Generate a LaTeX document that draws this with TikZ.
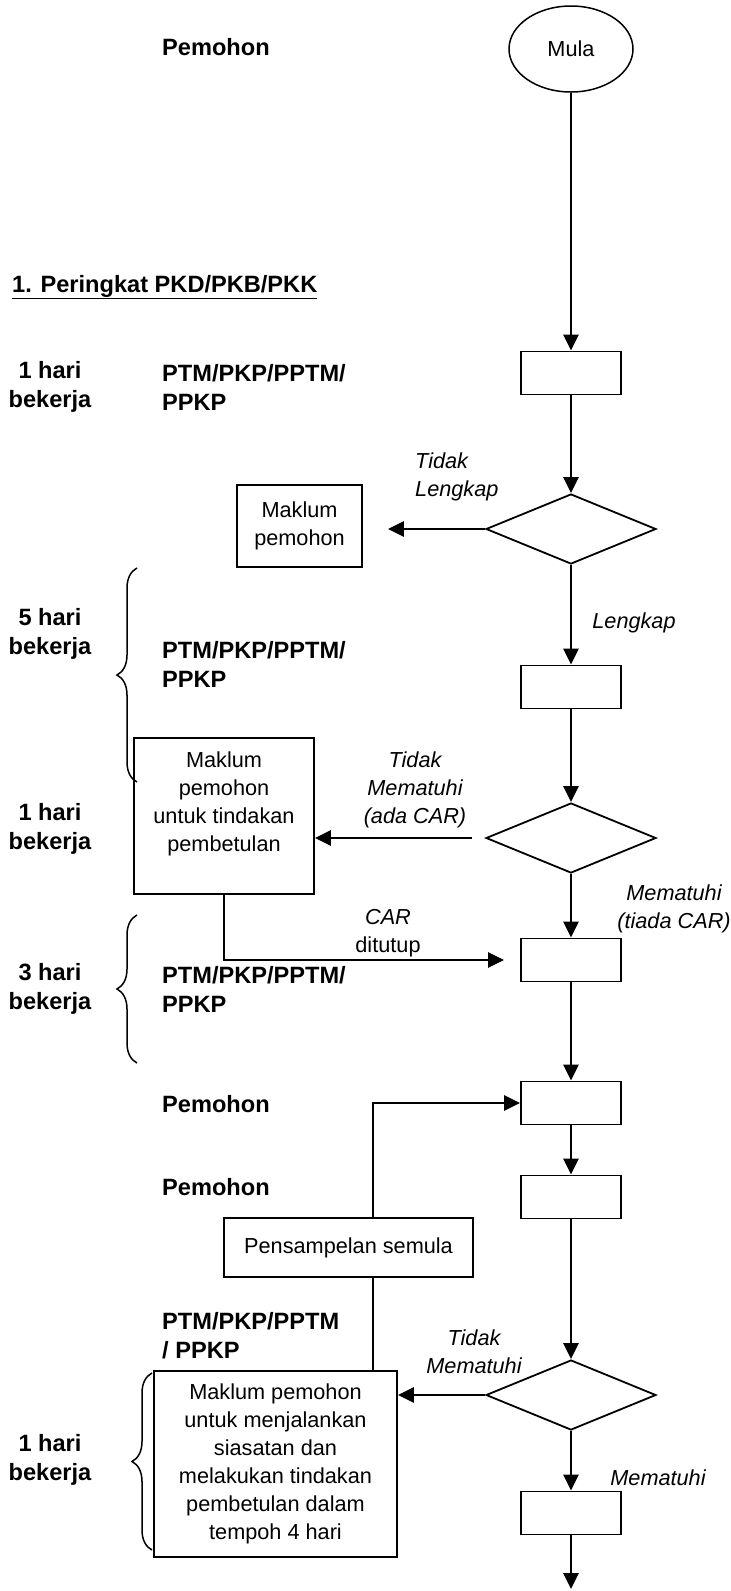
\documentclass[tikz,border=0pt]{standalone}
\usepackage{fontspec}
\setmainfont{Liberation Sans}
\usepackage{tikz}
\usetikzlibrary{arrows.meta}
\tikzset{>={Triangle[length=16pt,width=15pt]}}
\usetikzlibrary{shapes.geometric, decorations.pathreplacing}
\newcommand{\regfont}{\fontsize{21.7pt}{28pt}\selectfont}
\newcommand{\boldfont}{\fontsize{23.6pt}{29pt}\selectfont\bfseries}
\newcommand{\italfont}{\fontsize{21.7pt}{28pt}\selectfont\itshape}
\tikzstyle{startstop} = [ellipse, minimum width=124pt, minimum height=86pt, inner sep=0pt, draw=black, line width=1.5pt, font=\regfont]
\tikzstyle{process} = [rectangle, minimum width=100pt, minimum height=43pt, draw=black, line width=1.8pt]
\tikzstyle{decision} = [diamond, minimum width=170pt, minimum height=70pt, inner sep=0pt, draw=black, line width=1.8pt]
\tikzstyle{notebox} = [rectangle, align=center, draw=black, line width=1.8pt, font=\regfont]
\tikzstyle{arrow} = [line width=2.6pt,->]
\tikzstyle{branch} = [align=center, font=\italfont]
\tikzstyle{who} = [anchor=west, align=left, inner sep=0pt, font=\boldfont]
\tikzstyle{days} = [align=center, font=\boldfont]
\tikzstyle{bracket} = [decorate, decoration={brace, amplitude=20pt}, line width=1.5pt]

\begin{document}
\begin{tikzpicture}[x=1pt, y=-1pt, node distance=150pt]
\useasboundingbox (0,0) rectangle (731,1591);
% main column
\node (start) [startstop] at (571,49) {Mula};
\node (recv) [process, below of=start, yshift=-174pt] {};
\node (complete) [decision, below of=recv, yshift=-6pt] {};
\node (audit) [process, below of=complete, yshift=-8pt] {};
\node (comply) [decision, below of=audit, yshift=-1pt] {};
\node (closecar) [process, below of=comply, yshift=28pt] {};
\node (sample) [process, below of=closecar, yshift=7pt] {};
\node (test) [process, below of=sample, yshift=56pt] {};
\node (result) [decision, below of=test, yshift=-48pt] {};
\node (finish) [process, below of=result, yshift=32pt] {};
\coordinate (out) at (571,1589);
% side boxes
\node (notify) [notebox, minimum width=125pt, minimum height=82pt] at (299.5,526) {Maklum\\pemohon};
\node (fixnote) [notebox, minimum width=180pt, minimum height=156pt] at (224,816) {Maklum\\pemohon\\untuk tindakan\\pembetulan\\\mbox{}};
\node (resample) [notebox, minimum width=249pt, minimum height=59pt] at (348.5,1247.5) {Pensampelan semula};
\node (probe) [notebox, minimum width=243pt, minimum height=186pt] at (275.5,1464) {Maklum pemohon\\untuk menjalankan\\siasatan dan\\melakukan tindakan\\pembetulan dalam\\tempoh 4 hari};
% left column
\node (who0) [who] at (162,47) {Pemohon};
\node (stage) [anchor=west, inner sep=0pt, font=\boldfont] at (12,287) {\underline{1. Peringkat PKD/PKB/PKK}};
\node (t1) [days] at (50,387) {1 hari\\bekerja};
\node (who1) [who] at (162,387) {PTM/PKP/PPTM/\\PPKP};
\node (t2) [days] at (50,634) {5 hari\\bekerja};
\node (who2) [who] at (162,664) {PTM/PKP/PPTM/\\PPKP};
\node (t3) [days] at (50,829) {1 hari\\bekerja};
\node (t4) [days] at (50,989) {3 hari\\bekerja};
\node (who3) [who] at (162,989) {PTM/PKP/PPTM/\\PPKP};
\node (who4) [who] at (162,1104) {Pemohon};
\node (who5) [who] at (162,1187) {Pemohon};
\node (who6) [who] at (162,1336) {PTM/PKP/PPTM\\/ PPKP};
\node (t5) [days] at (50,1460) {1 hari\\bekerja};
\draw [bracket] (137,782) -- (137,568);
\draw [bracket] (137,1063) -- (137,915);
\draw [bracket] (152,1550) -- (152,1373);
% branch texts
\node (nolengkap) [branch, align=left, anchor=west, inner sep=0pt] at (415,477) {Tidak\\Lengkap};
\node (lengkap) [branch] at (634,623) {Lengkap};
\node (nocomply) [branch] at (415,790) {Tidak\\Mematuhi\\(ada CAR)};
\node (yescomply) [branch] at (674,909) {Mematuhi\\(tiada CAR)};
\node (carclosed) [align=center, font=\regfont] at (388,933) {\textit{CAR}\\ditutup};
\node (nocomply2) [branch] at (474,1352) {Tidak\\Mematuhi};
\node (yescomply2) [branch] at (658,1478) {Mematuhi};
% connectors
\draw [arrow] (start) -- (recv);
\draw [arrow] (recv) -- (complete);
\draw [arrow, shorten >=25pt] (complete.west) -- (complete.west -| notify.east);
\draw [arrow] (complete) -- (audit);
\draw [arrow] (audit) -- (comply);
\draw [arrow, shorten <=13pt] (comply.west) -- (comply.west -| fixnote.east);
\draw [arrow] (comply) -- (closecar);
\draw [arrow, shorten >=16pt] (fixnote.south) |- (closecar.west);
\draw [arrow] (closecar) -- (sample);
\draw [arrow] (sample) -- (test);
\draw [arrow] ([xshift=24.5pt]resample.north) |- (sample.west);
\draw [line width=1.5pt] ([xshift=24.5pt]resample.south) -- ([xshift=24.5pt]resample.south |- probe.north);
\draw [arrow] (test) -- (result);
\draw [arrow] (result.west) -- (result.west -| probe.east);
\draw [arrow] (result) -- (finish);
\draw [arrow] (finish) -- (out);
\end{tikzpicture}
\end{document}
